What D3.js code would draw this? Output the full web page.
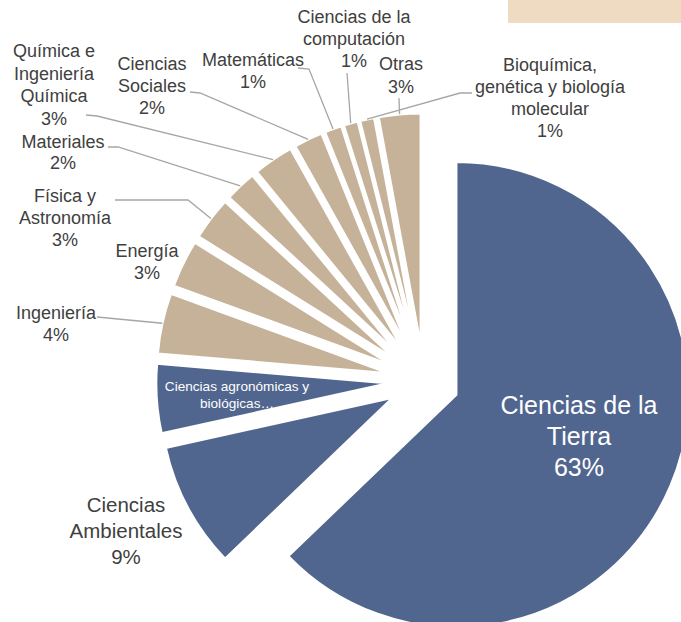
<!DOCTYPE html>
<html>
<head>
<meta charset="utf-8">
<script src="https://cdn.jsdelivr.net/npm/d3@7"></script>
<style>
  html, body { margin: 0; padding: 0; background: #ffffff; overflow: hidden; }
  svg { display: block; }
  text { font-family: "Liberation Sans", Arial, sans-serif; }
</style>
</head>
<body>
<svg id="chart" width="681" height="622"></svg>
<script>
// ---- data ----
const categories = [
  "Ciencias de la Tierra",
  "Ciencias Ambientales",
  "Ciencias agronómicas y biológicas",
  "Ingeniería",
  "Energía",
  "Física y Astronomía",
  "Materiales",
  "Química e Ingeniería Química",
  "Ciencias Sociales",
  "Matemáticas",
  "Ciencias de la computación",
  "Bioquímica, genética y biología molecular",
  "Otras"
];
const values = [62.7, 8.7, 4.8, 4.2, 3.3, 3.0, 2.2, 2.8, 2.0, 1.2, 1.0, 1.0, 2.9];
const labelLines = [
  ["Ciencias de la", "Tierra"],
  ["Ciencias", "Ambientales"],
  ["Ciencias agronómicas y", "biológicas…"],
  ["Ingeniería"],
  ["Energía"],
  ["Física y", "Astronomía"],
  ["Materiales"],
  ["Química e", "Ingeniería", "Química"],
  ["Ciencias", "Sociales"],
  ["Matemáticas"],
  ["Ciencias de la", "computación"],
  ["Bioquímica,", "genética y biología", "molecular"],
  ["Otras"]
];
const showPercent = [true, true, false, true, true, true, true, true, true, true, true, true, true];
const highlighted = ["Ciencias de la Tierra", "Ciencias Ambientales", "Ciencias agronómicas y biológicas"];

// ---- layout (positions / styles) ----
const W = 681, H = 622;
const cx = 424, cy = 381, R = 233, explode = 35;
const blue = "#51668E", beige = "#C5B299", textGray = "#404040", leaderGray = "#A6A6A6";

// label placement: x center, first baseline, line height, font size, color, leader elbow points
const labelLayout = [
  { x: 579, y: 414, lh: 31, fs: 25, fill: "#ffffff", leader: null },
  { x: 126, y: 512, lh: 26, fs: 20.5, fill: textGray, leader: null },
  { x: 237, y: 391, lh: 17, fs: 13.6, fill: "#ffffff", leader: null },
  { x: 56, y: 319, lh: 22, fs: 18, fill: textGray, leader: [[97, 317]] },
  { x: 147, y: 257, lh: 22, fs: 18, fill: textGray, leader: null },
  { x: 65, y: 202, lh: 22, fs: 18, fill: textGray, leader: [[115, 200], [188, 200]] },
  { x: 63, y: 148, lh: 21, fs: 18, fill: textGray, leader: [[108, 147], [118, 147]] },
  { x: 54, y: 57, lh: 22.5, fs: 18, fill: textGray, leader: [[86, 115], [97, 116]] },
  { x: 152, y: 70, lh: 22, fs: 18, fill: textGray, leader: [[190, 92], [200, 93]] },
  { x: 253, y: 66, lh: 21.5, fs: 18, fill: textGray, leader: [[298, 68], [309, 69]] },
  { x: 354, y: 23, lh: 22, fs: 18, fill: textGray, leader: [[347, 73]] },
  { x: 550, y: 71, lh: 22, fs: 18, fill: textGray, leader: [[472, 93], [460, 93]] },
  { x: 401, y: 70, lh: 23, fs: 18, fill: textGray, leader: [[399, 98]] }
];

const svg = d3.select("#chart");

// top-right decorative band
svg.append("rect").attr("x", 508).attr("y", 0).attr("width", W - 508).attr("height", 23)
  .attr("fill", "#EEDBC2");

const total = d3.sum(values);
const data = categories.map((c, i) => ({ name: c, value: values[i], i }));

const pie = d3.pie().sort(null).value(d => d.value).startAngle(0).endAngle(2 * Math.PI);
const arcs = pie(data);
const arc = d3.arc().innerRadius(0).outerRadius(R);

const color = d3.scaleOrdinal().domain(categories)
  .range(categories.map(c => highlighted.includes(c) ? blue : beige));

function offset(a) {
  const m = (a.startAngle + a.endAngle) / 2;
  return [explode * Math.sin(m), -explode * Math.cos(m)];
}

const g = svg.append("g").attr("transform", `translate(${cx},${cy})`);

g.selectAll("path.slice").data(arcs).join("path")
  .attr("class", "slice")
  .attr("transform", d => { const o = offset(d); return `translate(${o[0]},${o[1]})`; })
  .attr("d", arc)
  .attr("fill", d => color(d.data.name))
  .attr("stroke", "#ffffff")
  .attr("stroke-width", 2.5)
  .attr("stroke-linejoin", "miter");

// leader lines
arcs.forEach((a, i) => {
  const L = labelLayout[i];
  if (!L.leader) return;
  const m = (a.startAngle + a.endAngle) / 2;
  const o = offset(a);
  const end = [cx + o[0] + R * Math.sin(m), cy + o[1] - R * Math.cos(m)];
  const pts = L.leader.concat([end]);
  svg.append("path")
    .attr("d", d3.line()(pts))
    .attr("fill", "none")
    .attr("stroke", leaderGray)
    .attr("stroke-width", 1.3);
});

// labels
arcs.forEach((a, i) => {
  const L = labelLayout[i];
  const lines = labelLines[i].slice();
  if (showPercent[i]) lines.push(Math.round(a.data.value / total * 100) + "%");
  const t = svg.append("text")
    .attr("text-anchor", "middle")
    .attr("font-size", L.fs)
    .attr("fill", L.fill);
  lines.forEach((s, k) => {
    t.append("tspan").attr("x", L.x).attr("y", L.y + k * L.lh).text(s);
  });
});
</script>
</body>
</html>
